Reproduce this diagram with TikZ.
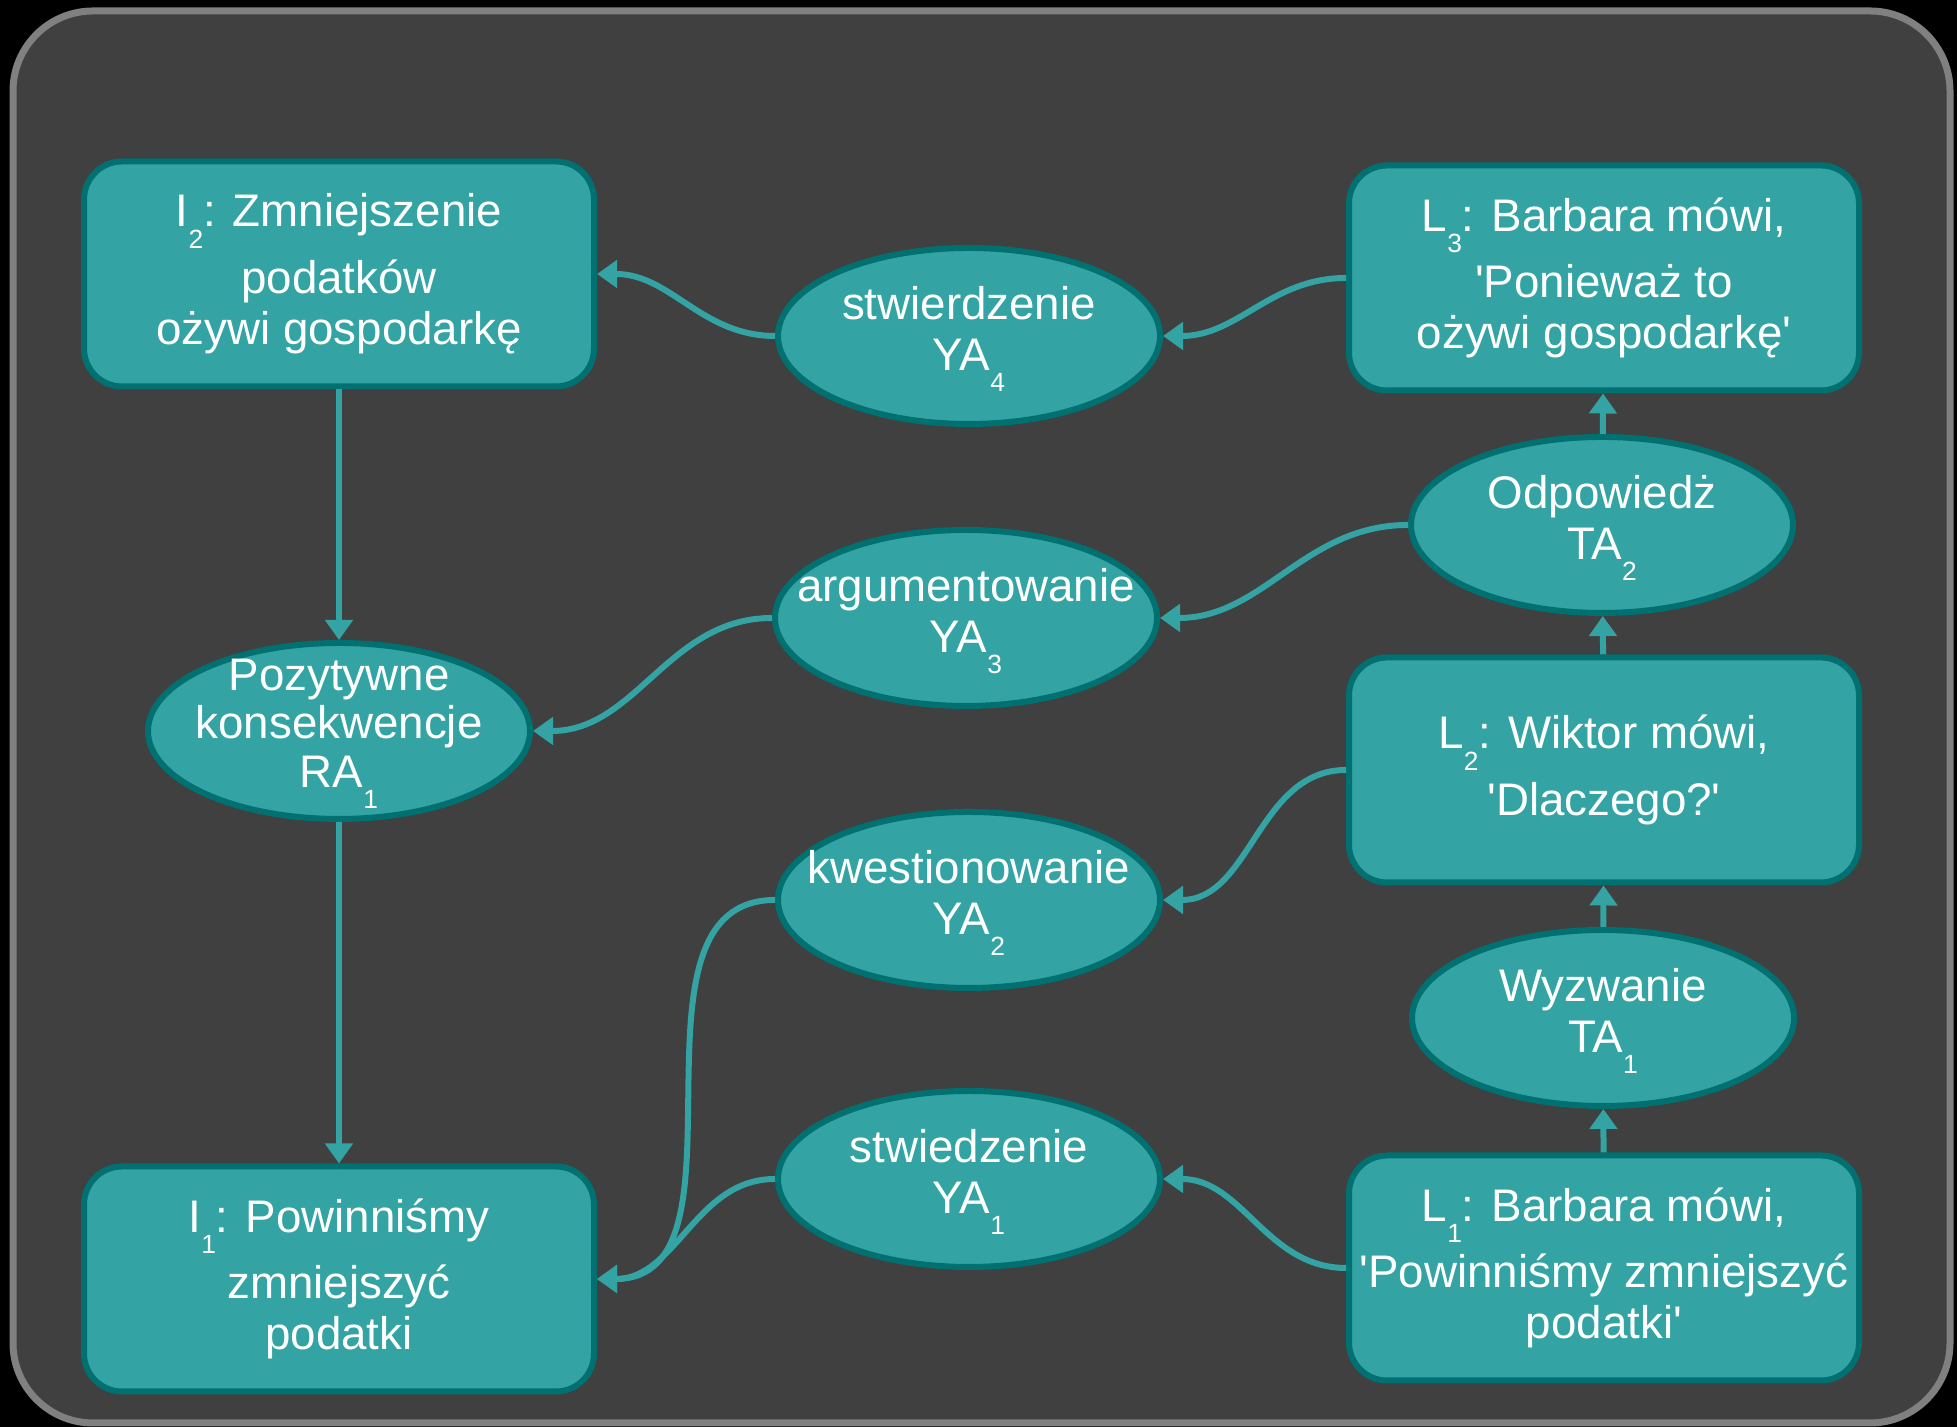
\documentclass[tikz,border=0pt]{standalone}
\usepackage{fontspec}
\setmainfont{Liberation Sans}[Ligatures=TeXOff]
\usetikzlibrary{shapes.geometric,arrows.meta}
\definecolor{tlo}{RGB}{64,64,64}
\definecolor{ramka}{RGB}{128,128,128}
\definecolor{turkus}{RGB}{51,163,163}
\definecolor{ciemny}{RGB}{0,112,112}
\newcommand\sub[1]{\raisebox{-0.47em}[0pt][0pt]{\fontsize{7.5pt}{8pt}\selectfont #1}}
\begin{document}
\begin{tikzpicture}[>={Triangle[length=0.2cm,width=0.27cm]},line join=round,
	font=\fontsize{13pt}{14.5pt}\selectfont,
	tekst/.style={rectangle,rounded corners=0.38cm,draw=ciemny,fill=turkus,line width=0.06cm,text=white,align=center,minimum width=5.1cm,minimum height=2.25cm,inner sep=2pt},
	akt/.style={ellipse,draw=ciemny,fill=turkus,line width=0.06cm,text=white,align=center,minimum width=3.82cm,minimum height=1.76cm,inner sep=-0.8cm,text depth=0.16cm},
	link/.style={draw=turkus,line width=0.06cm,->}]
		\useasboundingbox (0,0) rectangle (19.57,14.27);
		\fill[black] (0,0) rectangle (19.57,14.27);
		\draw[ramka,fill=tlo,line width=0.07cm,rounded corners=0.8cm] (0.13,0.04) rectangle (19.50,14.16);
		\node[tekst] (i2) at (3.39,11.53) {I\sub{2}: Zmniejszenie\\[4.5pt] podatków\\ ożywi gospodarkę};
		\node[tekst] (i1) at (3.39,1.48) {I\sub{1}: Powinniśmy\\[4.5pt] zmniejszyć\\ podatki};
		\node[tekst] (l3) at (16.04,11.49) {L\sub{3}: Barbara mówi,\\[4.5pt] 'Ponieważ to\\ ożywi gospodarkę'};
		\node[tekst] (l2) at (16.04,6.57) {L\sub{2}: Wiktor mówi,\\[4.5pt] 'Dlaczego?'};
		\node[tekst] (l1) at (16.04,1.59) {L\sub{1}: Barbara mówi,\\[4.5pt] 'Powinniśmy zmniejszyć\\ podatki'};
		\node[akt] (ya4) at (9.69,10.91) {stwierdzenie\\ YA\sub{4}};
		\node[akt] (ya3) at (9.66,8.09) {argumentowanie\\ YA\sub{3}};
		\node[akt] (ya2) at (9.69,5.27) {kwestionowanie\\ YA\sub{2}};
		\node[akt] (ya1) at (9.69,2.48) {stwiedzenie\\ YA\sub{1}};
		\node[akt,font=\fontsize{13pt}{13.8pt}\selectfont] (ra1) at (3.39,6.96) {Pozytywne\\ konsekwencje\\ RA\sub{1}};
		\node[akt] (ta2) at (16.02,9.02) {Odpowiedż\\ TA\sub{2}};
		\node[akt] (ta1) at (16.03,4.09) {Wyzwanie\\ TA\sub{1}};
		\draw[link] (ya4.west) to[out=180,in=0] (i2.east);
		\draw[link] (l3.west) to[out=180,in=0] (ya4.east);
		\draw[link] (i2) -- (ra1);
		\draw[link] (ra1) -- (i1);
		\draw[link] (ya3.west) to[out=180,in=0] (ra1.east);
		\draw[link] (ta2.west) to[out=180,in=0] (ya3.east);
		\draw[link] (ta2) -- (l3);
		\draw[link] (l2) -- (ta2);
		\draw[link] (l2.west) to[out=180,in=0] (ya2.east);
		\draw[link] (ya2.west) to[out=180,in=0] (i1.east);
		\draw[link] (ya1.west) to[out=180,in=0] (i1.east);
		\draw[link] (ta1) -- (l2);
		\draw[link] (l1) -- (ta1);
		\draw[link] (l1.west) to[out=180,in=0] (ya1.east);
\end{tikzpicture}
\end{document}
